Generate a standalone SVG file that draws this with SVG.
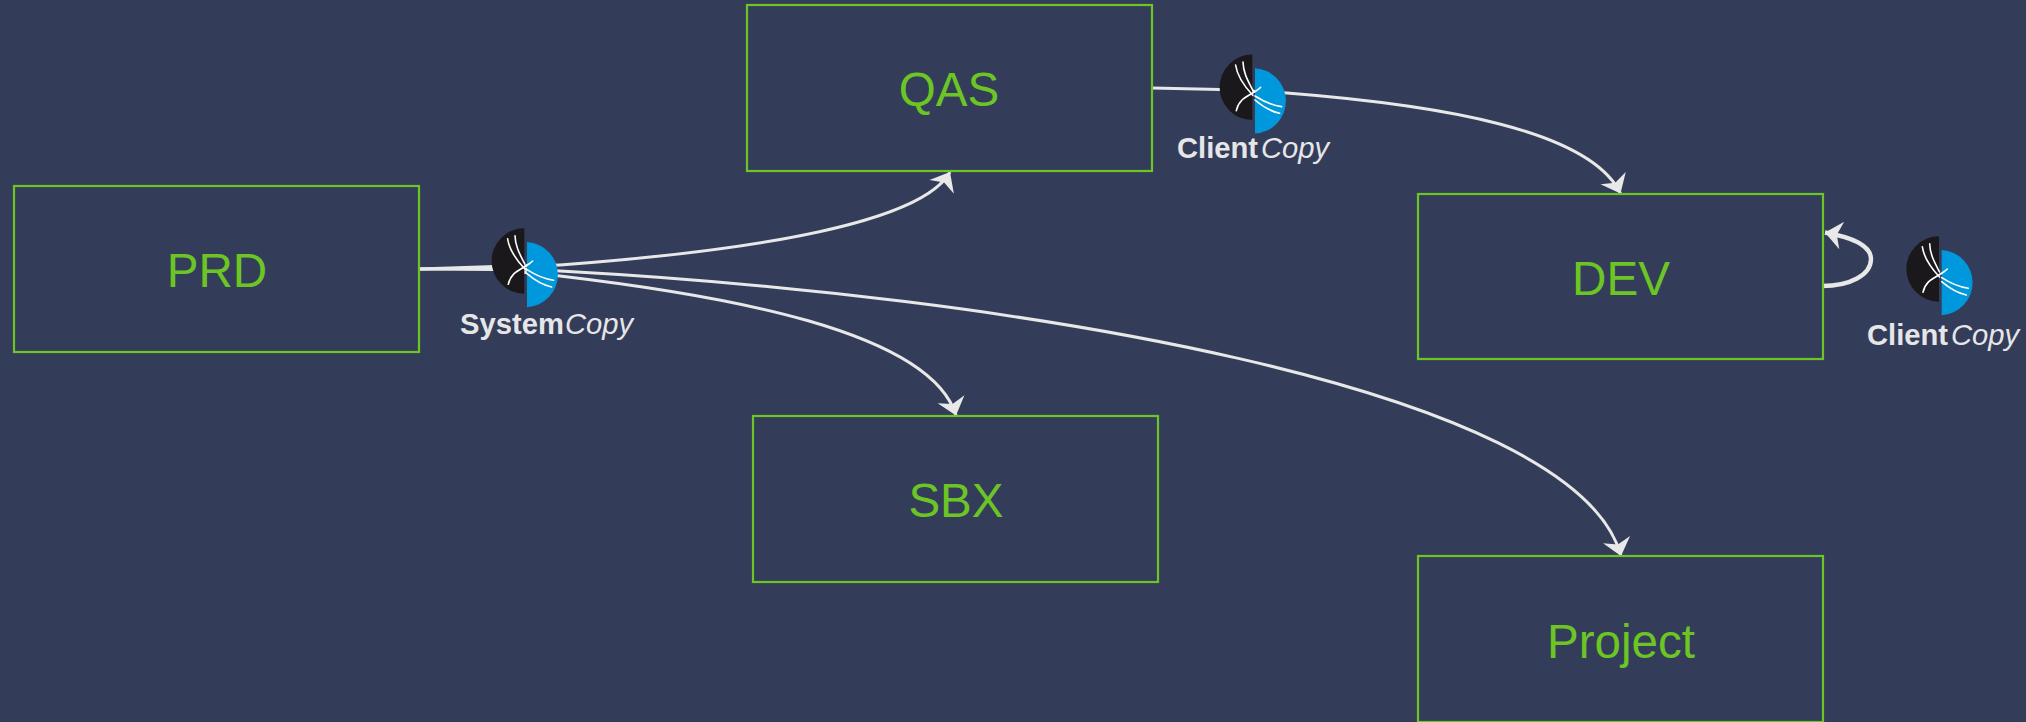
<svg xmlns="http://www.w3.org/2000/svg" width="2026" height="722" viewBox="0 0 2026 722">
<style>
.box{fill:none;stroke:#6cc524;stroke-width:2.2}
.lbl{font-family:"Liberation Sans",Arial,sans-serif;font-size:47.6px;fill:#6cc524;text-anchor:middle}
.con{fill:none;stroke:#e8e8e8;stroke-width:3;marker-end:url(#arr)}
.stub{fill:none;stroke:#e8e8e8;stroke-width:3}
.cap{font-family:"Liberation Sans",Arial,sans-serif;font-size:29.2px;fill:#e6e6e8}
.b{font-weight:bold}
.i{font-style:italic}
.w{fill:none;stroke:#fff;stroke-width:1.6;stroke-linecap:round}
</style>
<defs>
<marker id="arr" markerUnits="userSpaceOnUse" markerWidth="17" markerHeight="28" refX="17" refY="14" orient="auto" overflow="visible">
<path d="M0,0 L17,14 L0,28 L5,14Z" fill="#e8e8e8"/>
</marker>
<g id="icon">
<path d="M-1,-32.7 A32.7,32.7 0 0 0 -1,32.7Z" fill="#1a181b"/>
<path d="M1.7,-19 A32.7,32.7 0 0 1 1.7,46.3Z" fill="#0098dc"/>
<path class="w" d="M-17.7,-22.3 C-16,-10 -8,0 -0.5,8"/>
<path class="w" d="M-10.3,-25.3 C-10,-14 -5,-6 -0.5,3"/>
<path class="w" d="M-17,23.3 C-14,10 -4,9 5,2 L7.3,0"/>
<path class="w" d="M1.7,8.7 C10,14 18,18 28.3,19.3"/>
<path class="w" d="M1.7,12.7 C9,19 17,24 26.3,26"/>
</g>
</defs>
<rect width="2026" height="722" fill="#333d59"/>
<g id="connectors">
<path class="stub" d="M419,269 L495,266.5 L560,265"/>
<path class="stub" d="M419,269 L495,268 L560,271"/>
<path class="stub" d="M419,269 L495,269.5 L560,276"/>
<path class="con" d="M560,265 C760,250 922,222 950,172"/>
<path class="con" d="M560,276 C720,295 930,330 956,415.5"/>
<path class="con" d="M560,271 C1000,295 1575,385 1621,556"/>
<path class="stub" d="M1152,88 L1220,89.5 L1287,93"/>
<path class="con" d="M1287,93 C1440,105 1590,130 1620.5,193.5"/>
<path class="con" d="M1822,286 C1850,286 1871,275 1871,259 C1871,245 1850,237 1825,232.5" style="stroke-width:4.4"/>
</g>
<g id="prd"><rect class="box" x="14" y="186" width="405" height="166"/><text class="lbl" x="217" y="287">PRD</text></g>
<g id="qas"><rect class="box" x="747" y="5" width="405" height="166"/><text class="lbl" x="949" y="106">QAS</text></g>
<g id="sbx"><rect class="box" x="753" y="416" width="405" height="166"/><text class="lbl" x="956" y="517">SBX</text></g>
<g id="dev"><rect class="box" x="1418" y="194" width="405" height="165"/><text class="lbl" x="1621" y="295">DEV</text></g>
<g id="project"><rect class="box" x="1418" y="556" width="405" height="166"/><text class="lbl" x="1621" y="658">Project</text></g>
<g id="system-copy"><use href="#icon" x="525.3" y="261"/><text class="cap" y="334"><tspan class="b" x="460">System</tspan><tspan class="i" x="565">Copy</tspan></text></g>
<g id="client-copy-1"><use href="#icon" x="1253.3" y="87.3"/><text class="cap" y="158"><tspan class="b" x="1177">Client</tspan><tspan class="i" x="1261">Copy</tspan></text></g>
<g id="client-copy-2"><use href="#icon" x="1940" y="269"/><text class="cap" y="345"><tspan class="b" x="1867">Client</tspan><tspan class="i" x="1951">Copy</tspan></text></g>
</svg>
